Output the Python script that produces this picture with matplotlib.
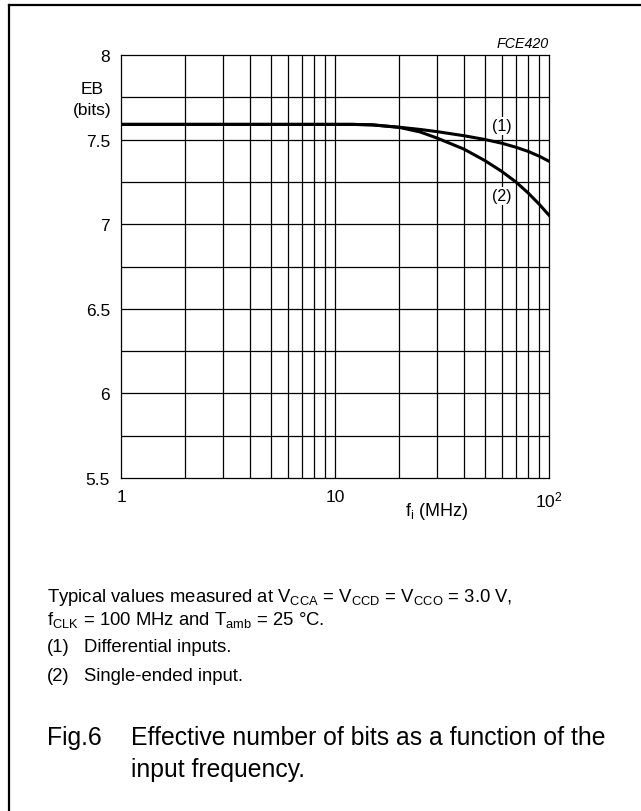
import matplotlib
matplotlib.use("Agg")
import matplotlib.pyplot as plt
from matplotlib.lines import Line2D

plt.rcParams['font.family'] = ['Liberation Sans', 'DejaVu Sans']
plt.rcParams['mathtext.fontset'] = 'custom'
plt.rcParams['mathtext.rm'] = 'Liberation Sans'
plt.rcParams['mathtext.it'] = 'Liberation Sans:italic'

# input frequency (MHz) and effective bits
freq_mhz = [1, 5, 10, 12, 15, 20, 25, 30, 40, 50, 60, 70, 80, 90, 100]
eb_differential = [7.59, 7.59, 7.59, 7.59, 7.587, 7.573, 7.560, 7.547, 7.523,
                   7.501, 7.479, 7.455, 7.430, 7.402, 7.372]
eb_single = [7.59, 7.59, 7.59, 7.59, 7.587, 7.572, 7.545, 7.509, 7.444,
             7.377, 7.313, 7.250, 7.184, 7.118, 7.053]

y_ticks = [5.5, 6, 6.5, 7, 7.5, 8]
y_labels = ['5.5', '6', '6.5', '7', '7.5', '8']
x_ticks = [1, 10, 100]
x_labels = ['1', '10', r'$\mathregular{10^2}$']

W, H = 641, 812
fig = plt.figure(figsize=(W / 100, H / 100), dpi=100)


def fx(px):
    return px / W


def fy(py):
    return 1 - py / H


ax = fig.add_axes([fx(121), fy(479), fx(549) - fx(121), fy(56) - fy(479)])
ax.set_xscale('log')
ax.set_xlim(1, 100)
ax.set_ylim(5.5, 8)

# grid: every 1..9 per decade, every 0.25 in EB
for d in [1, 10]:
    for m in range(2, 10):
        ax.axvline(d * m, color='black', lw=0.9, zorder=1)
ax.axvline(10, color='black', lw=0.9, zorder=1)
for v in [5.75, 6, 6.25, 6.5, 6.75, 7, 7.25, 7.5, 7.75]:
    ax.axhline(v, color='black', lw=0.9, zorder=1)

ax.plot(freq_mhz, eb_differential, color='black', lw=2.2, zorder=3,
        solid_joinstyle='round')
ax.plot(freq_mhz, eb_single, color='black', lw=2.2, zorder=3,
        solid_joinstyle='round')

ax.set_xticks(x_ticks)
ax.set_xticklabels(x_labels, fontsize=12.5)
ax.xaxis.set_minor_locator(matplotlib.ticker.NullLocator())
ax.set_yticks(y_ticks)
ax.set_yticklabels(y_labels, fontsize=12.5)
ax.tick_params(length=0, pad=8)
ax.tick_params(axis='x', pad=8)
for s in ax.spines.values():
    s.set_linewidth(0.9)

bb = dict(facecolor='white', edgecolor='none', pad=1)
ax.text(60, 7.582, '(1)', fontsize=11.5, ha='center', va='center', bbox=bb, zorder=4)
ax.text(60, 7.167, '(2)', fontsize=11.5, ha='center', va='center', bbox=bb, zorder=4)

fig.text(fx(549), fy(44), 'FCE420', fontsize=10.3, style='italic', ha='right', va='center')
fig.text(fx(92), fy(90), 'EB', fontsize=12.5, ha='center', va='center')
fig.text(fx(92), fy(111), '(bits)', fontsize=12.5, ha='center', va='center')
fig.text(fx(437), fy(512), r'f$_\mathregular{i}$ (MHz)', fontsize=13, ha='center', va='center')

# notes under the chart
note_fs = 13.3
fig.text(fx(47), fy(598),
         r'Typical values measured at V$_\mathregular{CCA}$ = V$_\mathregular{CCD}$ = '
         r'V$_\mathregular{CCO}$ = 3.0 V,', fontsize=note_fs, ha='left', va='center')
fig.text(fx(47), fy(620), r'f$_\mathregular{CLK}$ = 100 MHz and T$_\mathregular{amb}$ = 25 °C.',
         fontsize=note_fs, ha='left', va='center')
fig.text(fx(47), fy(648), '(1)', fontsize=note_fs, ha='left', va='center')
fig.text(fx(84), fy(648), 'Differential inputs.', fontsize=note_fs, ha='left', va='center')
fig.text(fx(47), fy(677), '(2)', fontsize=note_fs, ha='left', va='center')
fig.text(fx(84), fy(677), 'Single-ended input.', fontsize=note_fs, ha='left', va='center')

fig.text(fx(47), fy(738), 'Fig.6', fontsize=17.8, ha='left', va='center')
fig.text(fx(131), fy(738), 'Effective number of bits as a function of the',
         fontsize=17.8, ha='left', va='center')
fig.text(fx(131), fy(770), 'input frequency.', fontsize=17.8, ha='left', va='center')

# page frame: top and left edges only
fig.add_artist(Line2D([fx(9), 1], [fy(6), fy(6)], color='black', lw=1.6))
fig.add_artist(Line2D([fx(9), fx(9)], [fy(6), 0], color='black', lw=1.6))

fig.savefig('out.png', dpi=100)
